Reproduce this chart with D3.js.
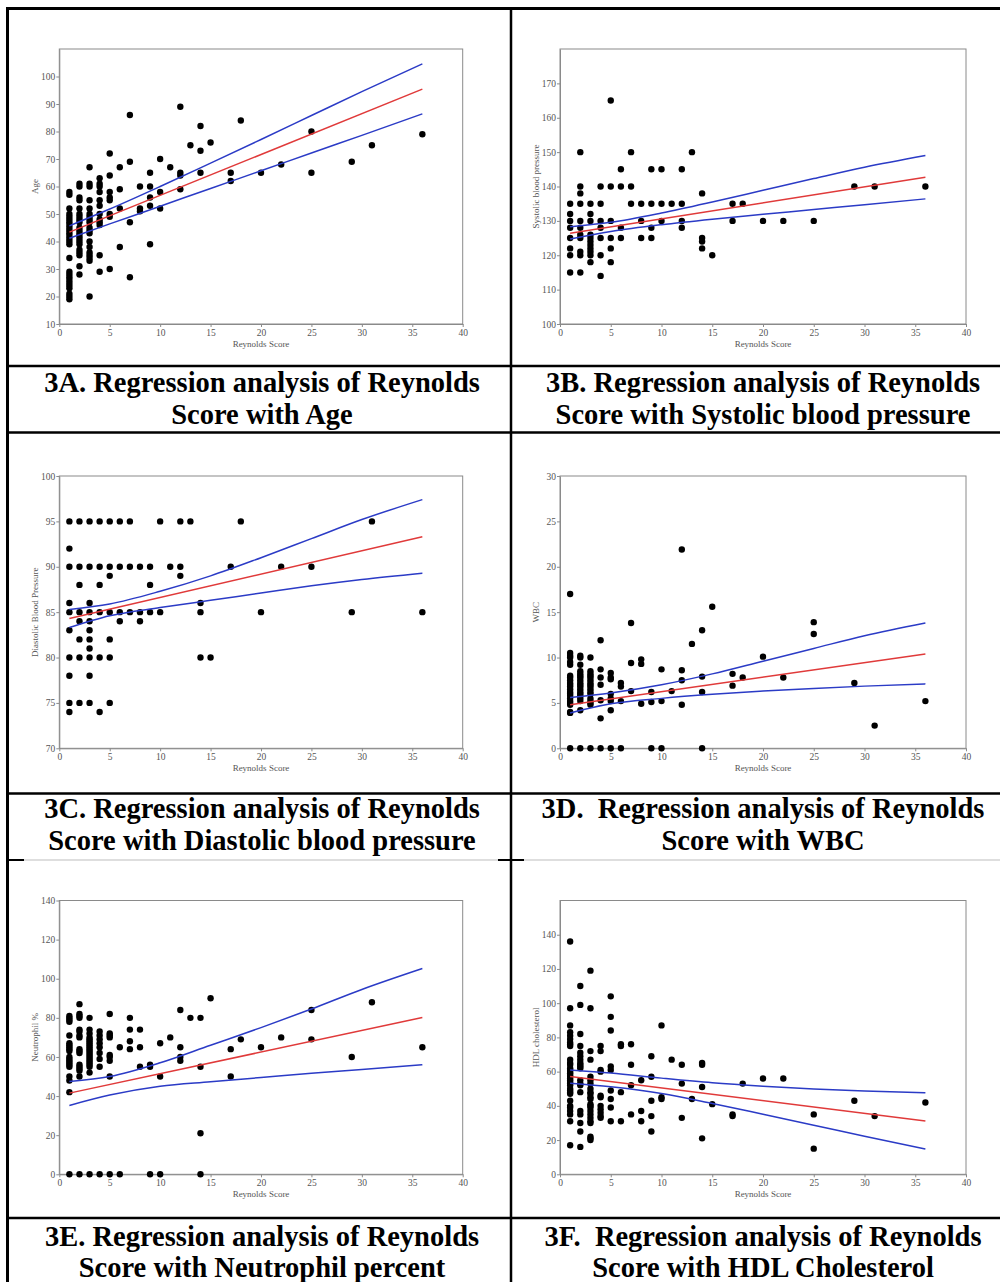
<!DOCTYPE html>
<html><head><meta charset="utf-8">
<script src="https://cdn.jsdelivr.net/npm/d3@7"></script>
<style>
html,body{margin:0;padding:0;background:#fff;}
svg text{font-family:"Liberation Serif","Times New Roman",serif;}
.cap{white-space:pre;}
</style></head><body>
<script>
// ---------- DATA (Reynolds score -> list of observed values) ----------
const xTicks = [0,5,10,15,20,25,30,35,40];

const agePoints = [
 [1,[58,57,52,50,49,48,47,46,45,44,43,42,41,40,39,34,29,28,27,26,25,24,23,21,20,19]],
 [2,[61,60,56,55,52,50,49,48,47,45,44,43,42,41,40,39,37,36,35,31,28]],
 [3,[67,61,60,55,52,50,49,48,47,45,44,43,40,38,36,35,34,33,20]],
 [4,[63,61,60,58,55,53,50,48,47,46,35,29]],
 [5,[72,64,58,56,55,50,49,30]],
 [6,[67,59,52,38]],[7,[86,69,47,27]],[8,[60,52,51]],[9,[65,60,56,53,39]],
 [10,[70,58,52]],[11,[67]],[12,[89,65,64,59]],[13,[75]],[14,[82,73,65]],[15,[76]],
 [17,[65,62]],[18,[84]],[20,[65]],[22,[68]],[25,[80,65]],[29,[69]],[31,[75]],[36,[79]]
];
const ageFit = [[1,43.4],[36,95.4]];
const ageUpper = [[1,45.7],[5,51.8],[10,60],[15,68.5],[20,77.1],[25,85.8],[30,94.5],[36,104.6]];
const ageLower = [[1,41.2],[5,46.4],[10,52.8],[15,59.3],[20,65.7],[25,72.2],[30,78.6],[36,86.4]];

const sbpPoints = [
 [1,[135,132,130,128,125,122,120,115]],
 [2,[150,140,138,135,130,128,126,125,121,120,115]],
 [3,[135,132,130,126,125,124,123,122,121,120,118]],
 [4,[140,135,130,128,125,120,114]],
 [5,[165,140,130,125,122,118]],
 [6,[145,140,128,125]],[7,[150,140,135]],[8,[135,130,125]],[9,[145,135,128,125]],
 [10,[145,135,130]],[11,[135]],[12,[145,135,130,128]],[13,[150]],[14,[138,125,124,122]],
 [15,[120]],[17,[135,130]],[18,[135]],[20,[130]],[22,[130]],[25,[130]],[29,[140]],[31,[140]],[36,[140]]
];
const sbpFit = [[1,126.4],[36,142.7]];
const sbpUpper = [[1,128.3],[5,129.6],[10,132.3],[15,135.5],[20,138.9],[25,142.3],[30,145.6],[36,149]];
const sbpLower = [[1,124.7],[5,126.9],[10,128.9],[15,130.5],[20,131.9],[25,133.3],[30,134.7],[36,136.4]];

const dbpPoints = [
 [1,[95,92,90,86,85,83,80,78,75,74]],
 [2,[95,90,88,85,84,82,80,75]],
 [3,[95,90,86,85,84,83,82,81,80,78,75]],
 [4,[95,90,88,85,80,74]],
 [5,[95,90,89,85,82,80,75]],
 [6,[95,90,85,84]],[7,[95,90,85]],[8,[90,85,84]],[9,[90,88,85]],[10,[95,85]],
 [11,[90]],[12,[95,90,89]],[13,[95]],[14,[86,85,80]],[15,[80]],[17,[90]],[18,[95]],
 [20,[85]],[22,[90]],[25,[90]],[29,[85]],[31,[95]],[36,[85]]
];
const dbpFit = [[1,84.3],[36,93.3]];
const dbpUpper = [[1,85.3],[5,85.9],[10,87.3],[15,89],[20,91],[25,93.1],[30,95.2],[36,97.4]];
const dbpLower = [[1,83.3],[5,84.6],[10,85.5],[15,86.3],[20,87.1],[25,87.9],[30,88.6],[36,89.3]];

const wbcPoints = [
 [1,[17,10.5,10.2,10,9.5,9.2,8,7.8,7.5,7.2,7,6.8,6.5,6.2,6,5.8,5.5,5.2,5,4.8,4,3.9,0]],
 [2,[10.2,10,9.2,8.5,8.2,8,7.8,7.5,7.2,7,6.8,6.5,6.2,6,5.8,5.5,5.2,4.2,0]],
 [3,[10,8.5,8.2,8,7.8,7.5,7.2,7,6.8,6.5,6.2,6,5.5,5.2,5,4.8,0]],
 [4,[11.9,8.7,7.8,7,5.3,3.3,0]],
 [5,[8.3,7.8,7.6,6,5.5,5.2,4.2,0]],
 [6,[7.2,6.8,5.2,0]],[7,[13.8,9.4,6.3]],[8,[9.8,9.3,4.9]],[9,[6.2,5.1,0]],[10,[8.7,5.2,0]],
 [11,[6.3]],[12,[21.9,8.6,7.5,4.8]],[13,[11.5]],[14,[13,7.9,6.2,0]],[15,[15.6]],
 [17,[8.2,6.9]],[18,[7.8]],[20,[10.1]],[22,[7.8]],[25,[13.9,12.6]],[29,[7.2]],[31,[2.5]],[36,[5.2]]
];
const wbcFit = [[1,4.8],[36,10.4]];
const wbcUpper = [[1,5.6],[5,6.1],[10,7],[15,8.2],[20,9.6],[25,11],[30,12.4],[36,13.8]];
const wbcLower = [[1,3.9],[5,4.9],[10,5.5],[15,5.95],[20,6.3],[25,6.6],[30,6.85],[36,7.1]];

const neuPoints = [
 [1,[81,80,79,78,71,67,66,65,64,63,60,59,58,57,56,55,50,48,42,0]],
 [2,[87,82,81,80,74,73,71,70,64,63,62,56,55,54,53,50,0]],
 [3,[80,74,72,70,69,68,67,66,65,64,63,62,61,60,59,58,57,56,55,52,0]],
 [4,[73,71,69,67,65,62,59,55,0]],
 [5,[82,72,71,70,61,60,58,50,0]],
 [6,[65,0]],[7,[80,74,68,64]],[8,[74,65,55]],[9,[56,55,0]],[10,[67,50,0]],[11,[70]],
 [12,[84,65,60,58]],[13,[80]],[14,[80,55,21,0]],[15,[90]],[17,[64,50]],[18,[69]],
 [20,[65]],[22,[70]],[25,[84,69]],[29,[60]],[31,[88]],[36,[65]]
];
const neuFit = [[1,41.5],[36,80.2]];
const neuUpper = [[1,47.5],[5,50],[10,57],[15,66],[20,75],[25,84.5],[30,94.5],[36,105.2]];
const neuLower = [[1,35.2],[5,40.5],[10,45],[15,47.3],[20,49.5],[25,51.7],[30,53.6],[36,56]];

const hdlPoints = [
 [1,[136,97,87,83,81,79,77,76,75,67,65,64,62,61,60,59,58,57,56,55,54,53,52,50,49,48,47,43,40,39,37,35,31,17]],
 [2,[110,99,82,75,71,69,67,65,64,63,62,55,53,52,48,37,35,30,25,16]],
 [3,[119,97,72,67,57,55,53,50,48,47,45,44,41,40,39,37,35,33,31,30,22,21,20]],
 [4,[75,72,61,60,46,45,40,38,36,34,33]],
 [5,[104,92,84,63,61,49,44,39,31]],
 [6,[76,75,48,31]],[7,[76,64,52,35]],[8,[55,37,31]],[9,[69,57,43,34,25]],[10,[87,45,44]],
 [11,[67]],[12,[64,53,33]],[13,[44]],[14,[65,64,51,21]],[15,[41]],[17,[35,34]],[18,[53]],
 [20,[56]],[22,[56]],[25,[35,15]],[29,[43]],[31,[34]],[36,[42]]
];
const hdlFit = [[1,57.1],[36,31.2]];
const hdlUpper = [[1,61],[5,59.2],[10,56.2],[15,53.5],[20,51.5],[25,49.9],[30,48.7],[36,47.6]];
const hdlLower = [[1,53.2],[5,51.1],[10,47.2],[15,41.4],[20,35.1],[25,28.7],[30,22.2],[36,14.8]];

const yLabels = ["Age","Systolic blood pressure","Diastolic Blood Pressure","WBC","Neutrophil %","HDL cholesterol"];
const captions = [
 ["3A. Regression analysis of Reynolds","Score with Age"],
 ["3B. Regression analysis of Reynolds","Score with Systolic blood pressure"],
 ["3C. Regression analysis of Reynolds","Score with Diastolic blood pressure"],
 ["3D.  Regression analysis of Reynolds","Score with WBC"],
 ["3E. Regression analysis of Reynolds","Score with Neutrophil percent"],
 ["3F.  Regression analysis of Reynolds","Score with HDL Cholesterol"]
];
const yDomains = [[10,110],[100,180],[70,100],[0,30],[0,140],[0,160]];
const yTickSets = [
 [10,20,30,40,50,60,70,80,90,100],
 [100,110,120,130,140,150,160,170],
 [70,75,80,85,90,95,100],
 [0,5,10,15,20,25,30],
 [0,20,40,60,80,100,120,140],
 [0,20,40,60,80,100,120,140]
];

// ---------- LAYOUT ----------
const W = 1000, H = 1282;
const svg = d3.select("body").append("svg").attr("width",W).attr("height",H);
svg.append("rect").attr("width",W).attr("height",H).attr("fill","#fff");

const colX = [[59.3,462.7],[560,966]];
const rowY = [[49,324],[476,748.3],[900.5,1174.3]];
const capCenter = [262,763];
const capBase = [[392,424],[818,850],[1246,1277]];

const panels = [
 {pts:agePoints, fit:ageFit, up:ageUpper, lo:ageLower},
 {pts:sbpPoints, fit:sbpFit, up:sbpUpper, lo:sbpLower},
 {pts:dbpPoints, fit:dbpFit, up:dbpUpper, lo:dbpLower},
 {pts:wbcPoints, fit:wbcFit, up:wbcUpper, lo:wbcLower},
 {pts:neuPoints, fit:neuFit, up:neuUpper, lo:neuLower},
 {pts:hdlPoints, fit:hdlFit, up:hdlUpper, lo:hdlLower}
];

panels.forEach((p,i)=>{
  const c = i%2, r = Math.floor(i/2);
  const x = d3.scaleLinear().domain([0,40]).range(colX[c]);
  const y = d3.scaleLinear().domain(yDomains[i]).range([rowY[r][1],rowY[r][0]]);
  const g = svg.append("g");
  g.append("rect").attr("x",colX[c][0]).attr("y",rowY[r][0])
    .attr("width",colX[c][1]-colX[c][0]).attr("height",rowY[r][1]-rowY[r][0])
    .attr("fill","none").attr("stroke","#8a8a8a").attr("stroke-width",1);
  const xa = g.append("g").attr("transform",`translate(0,${rowY[r][1]})`)
    .call(d3.axisBottom(x).tickValues(xTicks).tickSize(3).tickSizeOuter(0).tickPadding(2));
  const ya = g.append("g").attr("transform",`translate(${colX[c][0]},0)`)
    .call(d3.axisLeft(y).tickValues(yTickSets[i]).tickSize(3).tickSizeOuter(0).tickPadding(1));
  [xa,ya].forEach(a=>{
    a.select(".domain").attr("stroke","#8a8a8a");
    a.selectAll(".tick line").attr("stroke","#8a8a8a");
    a.selectAll(".tick text").attr("fill","#555").attr("font-size",9.5)
      .attr("font-family","Liberation Serif, serif");
  });
  g.append("text").attr("x",(colX[c][0]+colX[c][1])/2).attr("y",rowY[r][1]+23)
    .attr("text-anchor","middle").attr("font-size",9).attr("fill","#555").text("Reynolds Score");
  const yc = (rowY[r][0]+rowY[r][1])/2, xl = colX[c][0]-21;
  g.append("text").attr("transform",`translate(${xl},${yc}) rotate(-90)`)
    .attr("text-anchor","middle").attr("font-size",9).attr("fill","#555").text(yLabels[i]);
  const flat = p.pts.flatMap(([s,vals])=>vals.map(v=>[s,v]));
  g.append("g").selectAll("circle").data(flat).join("circle")
    .attr("cx",d=>x(d[0])).attr("cy",d=>y(d[1])).attr("r",3.2).attr("fill","#000");
  const line = d3.line().x(d=>x(d[0])).y(d=>y(d[1])).curve(d3.curveMonotoneX);
  g.append("path").attr("d",line(p.up)).attr("fill","none").attr("stroke","#2b3bc6").attr("stroke-width",1.5);
  g.append("path").attr("d",line(p.lo)).attr("fill","none").attr("stroke","#2b3bc6").attr("stroke-width",1.5);
  g.append("path").attr("d",line(p.fit)).attr("fill","none").attr("stroke","#e03a3a").attr("stroke-width",1.5);
  captions[i].forEach((t,k)=>{
    svg.append("text").attr("class","cap").attr("x",capCenter[c]).attr("y",capBase[r][k])
      .attr("text-anchor","middle").attr("font-size",28.5).attr("font-weight","bold")
      .attr("fill","#000").text(t);
  });
});

// ---------- TABLE RULES ----------
const rules = svg.append("g").attr("stroke","#000");
rules.append("line").attr("x1",7.5).attr("x2",7.5).attr("y1",7).attr("y2",H).attr("stroke-width",3);
rules.append("line").attr("x1",6).attr("x2",W).attr("y1",8.5).attr("y2",8.5).attr("stroke-width",3);
rules.append("line").attr("x1",511).attr("x2",511).attr("y1",8).attr("y2",H).attr("stroke-width",2.5);
[366,432.5,793.5,1218].forEach(yy=>{
  rules.append("line").attr("x1",7).attr("x2",W).attr("y1",yy).attr("y2",yy).attr("stroke-width",2.5);
});
rules.append("line").attr("x1",7).attr("x2",W).attr("y1",860).attr("y2",860).attr("stroke","#bdbdbd").attr("stroke-width",1);
rules.append("line").attr("x1",7).attr("x2",24).attr("y1",860).attr("y2",860).attr("stroke-width",2);
rules.append("line").attr("x1",498).attr("x2",524).attr("y1",860).attr("y2",860).attr("stroke-width",2);
</script>
</body></html>
